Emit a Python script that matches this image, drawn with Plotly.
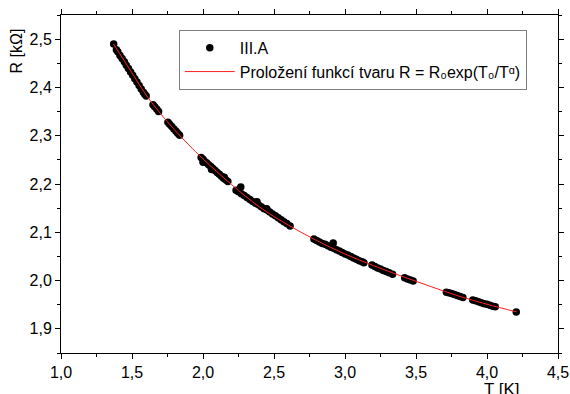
import plotly.graph_objects as go

T_data = [1.371,
          1.39, 1.40, 1.415, 1.43,
          1.446, 1.46, 1.475, 1.49, 1.505, 1.52, 1.535, 1.55, 1.565, 1.58, 1.59, 1.60,
          1.648, 1.66, 1.675, 1.687,
          1.753, 1.765, 1.78, 1.795, 1.81, 1.822, 1.835,
          1.987, 2.0, 2.0, 2.01, 2.025, 2.04, 2.055, 2.06, 2.07, 2.085, 2.10, 2.115, 2.13, 2.145, 2.15, 2.16, 2.175,
          2.233, 2.25, 2.266, 2.27, 2.29, 2.31, 2.33, 2.35, 2.37, 2.38, 2.39, 2.41, 2.43, 2.449, 2.45, 2.47, 2.49,
          2.51, 2.53, 2.55, 2.57, 2.59, 2.613,
          2.781, 2.80, 2.82, 2.84, 2.86, 2.88, 2.90, 2.917, 2.92, 2.94, 2.96, 2.98, 3.00, 3.02, 3.04, 3.06,
          3.08, 3.10, 3.12, 3.133,
          3.19, 3.21, 3.23, 3.25, 3.27, 3.29, 3.31, 3.335,
          3.42, 3.44, 3.46, 3.48,
          3.714, 3.73, 3.75, 3.77, 3.79, 3.81, 3.83,
          3.90, 3.92, 3.94, 3.96, 3.98, 4.00, 4.02, 4.04, 4.058,
          4.206]
R_data = [2.490,
          2.478, 2.474, 2.466, 2.460,
          2.453, 2.446, 2.439, 2.432, 2.425, 2.418, 2.411, 2.404, 2.397, 2.390, 2.386, 2.382,
          2.364, 2.360, 2.355, 2.350,
          2.328, 2.324, 2.319, 2.314, 2.309, 2.305, 2.301,
          2.255, 2.251, 2.245, 2.247, 2.244, 2.240, 2.236, 2.230, 2.232, 2.228, 2.224, 2.220, 2.216, 2.212, 2.214, 2.209, 2.205,
          2.187, 2.184, 2.194, 2.180, 2.176, 2.172, 2.168, 2.164, 2.160, 2.163, 2.157, 2.153, 2.149, 2.149, 2.146, 2.142, 2.138,
          2.134, 2.130, 2.126, 2.122, 2.118, 2.113,
          2.086, 2.083, 2.080, 2.077, 2.075, 2.072, 2.069, 2.078, 2.067, 2.064, 2.061, 2.058, 2.055, 2.053, 2.050, 2.047,
          2.044, 2.041, 2.039, 2.037,
          2.032, 2.029, 2.026, 2.024, 2.021, 2.019, 2.016, 2.013,
          2.006, 2.003, 2.001, 1.999,
          1.976, 1.975, 1.973, 1.971, 1.969, 1.967, 1.965,
          1.960, 1.958, 1.956, 1.954, 1.952, 1.951, 1.949, 1.947, 1.946,
          1.935]

# Fitted curve
T_fit = [1.37, 1.5, 1.6, 1.7, 1.8, 1.9, 2.0, 2.2, 2.4, 2.6, 2.8, 3.0, 3.2, 3.4, 3.6, 3.8, 4.0, 4.21]
R_fit = [2.490, 2.430, 2.384, 2.346, 2.312, 2.281, 2.252, 2.199, 2.152, 2.115, 2.083, 2.055, 2.031,
         2.009, 1.988, 1.968, 1.951, 1.935]

x_ticks = [1.0, 1.5, 2.0, 2.5, 3.0, 3.5, 4.0, 4.5]
y_ticks = [1.9, 2.0, 2.1, 2.2, 2.3, 2.4, 2.5]

FONT = "Liberation Sans, Arial, sans-serif"

fig = go.Figure()
fig.add_trace(go.Scatter(x=T_data, y=R_data, mode="markers", name="III.A",
                         marker=dict(color="black", size=7.5)))
fig.add_trace(go.Scatter(x=T_fit, y=R_fit, mode="lines",
                         name="Proložení funkcí tvaru R = R₀exp(T₀/Tᵅ)",
                         line=dict(color="#ff2020", width=1, shape="spline")))

axis_common = dict(showgrid=False, zeroline=False, showline=True, linecolor="black", linewidth=1,
                   ticks="outside", ticklen=5, tickcolor="black", mirror="ticks", automargin=False,
                   tickfont=dict(family=FONT, size=16, color="black"))

fig.update_xaxes(range=[1.0, 4.5], tickvals=x_ticks, tickformat=".1f",
                 minor=dict(dtick=0.25, ticks="outside", ticklen=3, tickcolor="black"),
                 **axis_common)
fig.update_yaxes(range=[1.85, 2.55], tickvals=y_ticks, tickformat=".1f",
                 minor=dict(dtick=0.05, ticks="outside", ticklen=3, tickcolor="black"),
                 **axis_common)

fig.update_layout(
    width=570, height=394,
    margin=dict(l=61, r=12, t=15, b=41, pad=0, autoexpand=False),
    paper_bgcolor="white", plot_bgcolor="white",
    separators=", ",
    font=dict(family=FONT, size=16, color="black"),
    showlegend=True,
    legend=dict(x=0.237, y=0.956, xanchor="left", yanchor="top",
                bgcolor="white", bordercolor="#808080", borderwidth=1,
                font=dict(family=FONT, size=16, color="black"),
                tracegroupgap=0, itemwidth=50),
    annotations=[
        dict(text="T [K]", x=0.887, y=-0.073, xref="paper", yref="paper",
             xanchor="center", yanchor="top", showarrow=False,
             font=dict(family=FONT, size=17, color="black")),
        dict(text="R [kΩ]", x=-0.09, y=0.893, xref="paper", yref="paper",
             xanchor="center", yanchor="middle", showarrow=False, textangle=-90,
             font=dict(family=FONT, size=16, color="black")),
    ],
)

fig.write_html("out.html", config={"displayModeBar": False})
